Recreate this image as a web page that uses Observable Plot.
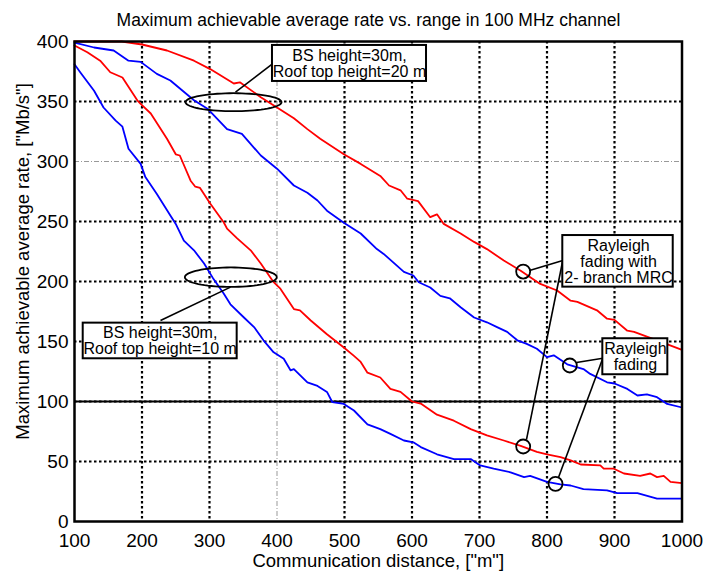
<!DOCTYPE html>
<html>
<head>
<meta charset="utf-8">
<script src="https://cdn.jsdelivr.net/npm/d3@7"></script>
<script src="https://cdn.jsdelivr.net/npm/@observablehq/plot@0.6"></script>
<style>
  body { margin: 0; background: white; font-family: "Liberation Sans", Arial, sans-serif; }
  #title { width: 703px; height: 30px; box-sizing: border-box; padding-top: 12px; padding-left: 34px;
           text-align: center; font-size: 17.5px; line-height: 17.5px; color: black; white-space: nowrap; }
  #chart svg { display: block; overflow: hidden; }
</style>
</head>
<body>
<div id="title">Maximum achievable average rate vs. range in 100 MHz channel</div>
<div id="chart"></div>
<script>
// ---- Series data ----
const redHighX = [100,170,200,237,277,301,336,345,376,400,425,445,464,499,524,553,566,583,593,609,627,637,647,672,692,711,736,761,790,815,835,845,874,889,900,919,929,958,1000];
const redHighY = [400,400,397.5,392.5,384,377,365,366,353.6,345,336,327,319,306,298,288,280,276,269,267,253.6,256,248,240,233,227,217.5,209,198,192.5,184,183,176,169,168,159,158,152,143];

const blueHighX = [100,129,158,180,198,222,242,277,297,326,348,376,400,425,445,460,474,499,524,548,558,588,602,610,627,642,656,672,692,711,726,741,756,770,785,800,810,830,854,864,889,900,919,934,948,963,978,1000];
const blueHighY = [399,395,392.5,384,383,373,367.5,351,344,327,323,305,294,280,274,267.5,259,249,240,227,223,208,205,199.4,195,188,186,178.6,170,166,162,158,151,148,144,137,138.5,131,127,123,116,115,110.5,105,106,103.6,98,95];

const redLowX = [100,119,138,153,171,193,198,213,237,250,256,272,279,286,301,321,326,341,361,376,395,405,425,434,450,474,499,514,524,534,553,568,583,600,614,637,662,687,711,736,761,785,800,820,835,850,879,884,899,914,938,953,963,973,983,1000];
const redLowY = [396.7,391,384,374.4,370,351,348,340,319,306,305,284,279,278,265,249.4,244,236,226,215,199.4,194,177,176,167.5,156,145,138,133,124,120,110.5,108,100,98,89,84,77,71.7,67.5,63,58,56,53.6,51,47.5,46.7,44,44,40,38,40,37,38,33,32];

const blueLowX = [100,109,129,143,161,171,180,198,205,222,242,250,262,277,292,306,321,331,351,366,380,395,410,420,425,445,460,474,482,499,514,534,553,568,588,602,613,637,662,687,701,721,746,766,775,800,820,835,854,889,904,934,963,1000];
const blueLowY = [381,374,359,345,334,329,310.6,298,287,273,255,248,234,226,215,202,190,181,170,162,151,141,135.6,126,127,116,113,108,99.4,98,92.5,81,77,73,67.5,66,62,56,52,52,46.7,44,41,37,38,33,31,30,27,26,23.6,23.6,19,19];

// ---- Axes / grid ----
const xTicks = [100,200,300,400,500,600,700,800,900,1000];
const yTicks = [0,50,100,150,200,250,300,350,400];
const gridXDotted = [200,300,500,600,700,800,900];
const gridXThin = [400];
const gridYDotted = [50,100,150,200,250,350];
const gridYThin = [300];
const gridYSolid = [100];

const xLabel = "Communication distance, [\"m\"]";
const yLabel = "Maximum achievable average rate, [\"Mb/s\"]";

// ---- Annotations (data coordinates) ----
const boxLabels = ["BS height=30m,\nRoof top height=20 m", "BS height=30m,\nRoof top height=10 m", "Rayleigh\nfading with\n2- branch MRC", "Rayleigh\nfading"];
const boxX1 = [393.3, 112.9, 823.4, 882.7];
const boxX2 = [621.5, 341.0, 987.0, 979.0];
const boxY1 = [366.7, 135.6, 195.3, 122.3];
const boxY2 = [396.7, 165.3, 238.3, 152.3];
const boxTextX = [507.4, 227.0, 906.0, 931.0];
const boxTextY = [381.2, 150.2, 216.2, 136.9];

const ellipseCX = [335.6, 331.6];
const ellipseCY = [349.4, 203.6];
const ellipseRX = [71.1, 68.1];
const ellipseRY = [7.5, 8.1];

const circleX = [764.7, 764.7, 833.8, 812.6];
const circleY = [208.3, 62.5, 130.0, 31.4];

const leaderX1 = [393.3, 227.4, 823.4, 823.4, 882.7, 882.7];
const leaderY1 = [381.4, 167.5, 217.5, 217.5, 136.1, 136.1];
const leaderX2 = [338.5, 331.1, 774.1, 769.6, 843.7, 817.0];
const leaderY2 = [357.8, 195.3, 209.2, 68.3, 132.5, 36.7];

// ---- Build tables ----
function series(name, color, xs, ys) { return xs.map((x, i) => ({name, color, x, y: ys[i]})); }
const lines = [
  ...series("redHigh", "#ff0000", redHighX, redHighY),
  ...series("blueHigh", "#0000ff", blueHighX, blueHighY),
  ...series("redLow", "#ff0000", redLowX, redLowY),
  ...series("blueLow", "#0000ff", blueLowX, blueLowY)
];
const boxes = boxLabels.map((t, i) => ({text: t, x1: boxX1[i], x2: boxX2[i], y1: boxY1[i], y2: boxY2[i], tx: boxTextX[i], ty: boxTextY[i]}));
const ellipses = [];
ellipseCX.forEach((cx, k) => {
  for (let i = 0; i <= 72; i++) {
    const a = (i / 72) * 2 * Math.PI;
    ellipses.push({k, x: cx + ellipseRX[k] * Math.cos(a), y: ellipseCY[k] + ellipseRY[k] * Math.sin(a)});
  }
});
const circles = circleX.map((x, i) => ({x, y: circleY[i]}));
const leaders = leaderX1.map((x1, i) => ({x1, y1: leaderY1[i], x2: leaderX2[i], y2: leaderY2[i]}));

const chart = Plot.plot({
  width: 703, height: 543,
  marginLeft: 74, marginRight: 21.5, marginTop: 11, marginBottom: 52,
  style: {fontFamily: "'Liberation Sans', Arial, sans-serif", fontSize: "19px", color: "black", background: "white", overflow: "hidden"},
  x: {domain: [100, 1000]},
  y: {domain: [0, 400]},
  marks: [
    Plot.ruleX(gridXThin, {stroke: "#999", strokeWidth: 1, strokeDasharray: "5,2,1,2"}),
    Plot.ruleY(gridYThin, {stroke: "#999", strokeWidth: 1, strokeDasharray: "5,2,1,2"}),
    Plot.ruleY(gridYSolid, {stroke: "black", strokeWidth: 2}),
    Plot.ruleX(gridXDotted, {stroke: "black", strokeWidth: 2.2, strokeDasharray: "2.5,2.5"}),
    Plot.ruleY(gridYDotted, {stroke: "black", strokeWidth: 2.2, strokeDasharray: "2.5,2.5"}),
    Plot.line(lines, {x: "x", y: "y", z: "name", stroke: "color", strokeWidth: 1.8}),
    Plot.line(ellipses, {x: "x", y: "y", z: "k", stroke: "black", strokeWidth: 1.8}),
    Plot.dot(circles, {x: "x", y: "y", r: 7, stroke: "black", strokeWidth: 1.8, fill: "none"}),
    Plot.link(leaders, {x1: "x1", y1: "y1", x2: "x2", y2: "y2", stroke: "black", strokeWidth: 1.6}),
    Plot.rect(boxes, {x1: "x1", x2: "x2", y1: "y1", y2: "y2", fill: "white", stroke: "black", strokeWidth: 2}),
    Plot.text(boxes, {x: "tx", y: "ty", text: "text", fontSize: 16, lineHeight: 1, textAnchor: "middle", fill: "black"}),
    Plot.frame({stroke: "black", strokeWidth: 2.5}),
    Plot.axisX(xTicks, {tickSize: 0, tickPadding: 12, fontSize: 19, label: null, tickFormat: (d) => String(d)}),
    Plot.axisY(yTicks, {tickSize: 0, tickPadding: 6, fontSize: 19, label: null, tickFormat: (d) => String(d)}),
    Plot.text([xLabel], {frameAnchor: "bottom", textAnchor: "middle", lineAnchor: "middle", dy: 40, fontSize: 18.5, fill: "black"}),
    Plot.text([yLabel], {frameAnchor: "left", textAnchor: "middle", lineAnchor: "middle", dx: -51, dy: -20, rotate: -90, fontSize: 18.5, fill: "black"})
  ]
});
document.getElementById("chart").appendChild(chart);
</script>
</body>
</html>
